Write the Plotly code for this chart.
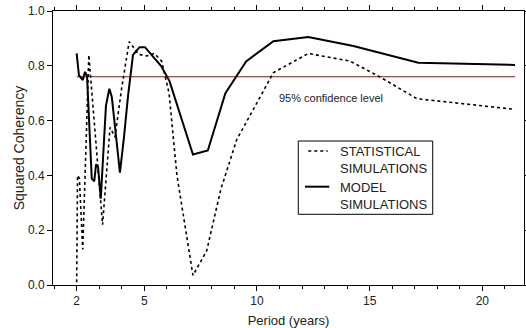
import plotly.graph_objects as go

# Model simulations (solid)
model_period = [2.0, 2.1, 2.27, 2.37, 2.46, 2.67, 2.78, 2.86, 2.95, 3.07, 3.30, 3.45, 3.56,
                3.92, 4.1, 4.28, 4.5, 4.79, 5.03, 5.75, 6.12, 7.16, 7.82, 8.6, 9.52,
                10.73, 12.28, 14.28, 17.16, 21.45]
model_coh = [0.845, 0.766, 0.748, 0.778, 0.762, 0.388, 0.378, 0.44, 0.43, 0.315, 0.655, 0.716, 0.686,
             0.41, 0.54, 0.69, 0.84, 0.868, 0.868, 0.799, 0.744, 0.476, 0.491, 0.70, 0.816,
             0.89, 0.905, 0.872, 0.811, 0.803]

# Statistical simulations (dotted)
stat_period = [2.0, 2.04, 2.12, 2.27, 2.54, 3.15, 3.48, 3.7, 4.0, 4.33, 4.75, 5.1, 5.45,
               5.77, 6.1, 6.45, 7.16, 7.77, 8.4, 9.1, 10.1, 10.73, 12.28, 14.13, 15.4,
               17.1, 21.45]
stat_coh = [0.01, 0.40, 0.39, 0.13, 0.84, 0.22, 0.575, 0.54, 0.72, 0.888, 0.842, 0.836, 0.845,
            0.817, 0.70, 0.40, 0.035, 0.125, 0.35, 0.53, 0.68, 0.775, 0.845, 0.817, 0.762,
            0.68, 0.641]

# 95% confidence level
conf_level = 0.76
conf_period = [2.0, 21.45]

series_names = ["STATISTICAL<br>SIMULATIONS", "MODEL<br>SIMULATIONS"]

x_tickvals = [2, 5, 10, 15, 20]
y_tickvals = [0.0, 0.2, 0.4, 0.6, 0.8, 1.0]
y_ticktext = ["0.0", "0.2", "0.4", "0.6", "0.8", "1.0"]

font_family = "Liberation Sans, Arial, sans-serif"
stat_dash = "3px,3px"

fig = go.Figure()
fig.add_trace(go.Scatter(
    x=conf_period, y=[conf_level] * len(conf_period), mode="lines",
    line=dict(color="#7a1f1f", width=1), showlegend=False, hoverinfo="skip"))
fig.add_trace(go.Scatter(
    x=stat_period, y=stat_coh, mode="lines", name=series_names[0], showlegend=False,
    line=dict(color="black", width=1.6, dash=stat_dash)))
fig.add_trace(go.Scatter(
    x=model_period, y=model_coh, mode="lines", name=series_names[1], showlegend=False,
    line=dict(color="black", width=2)))

fig.add_annotation(x=13.3, y=0.684, text="95% confidence level", showarrow=False,
                   font=dict(size=11, color="#222", family=font_family))

# legend box drawn in paper coordinates (compact symbols, like the original)
fig.add_shape(type="rect", xref="paper", yref="paper", x0=0.5208, x1=0.8062, y0=0.258, y1=0.5255,
              line=dict(color="black", width=1), fillcolor="white", layer="above")
fig.add_shape(type="line", xref="paper", yref="paper", x0=0.542, x1=0.5832, y0=0.489, y1=0.489,
              line=dict(color="black", width=1.6, dash=stat_dash), layer="above")
fig.add_shape(type="line", xref="paper", yref="paper", x0=0.535, x1=0.5866, y0=0.3588, y1=0.3588,
              line=dict(color="black", width=2), layer="above")
for name, ypos in zip(series_names, [0.458, 0.3241]):
    fig.add_annotation(xref="paper", yref="paper", x=0.606, y=ypos, xanchor="left", yanchor="middle",
                       align="left", text=name, showarrow=False,
                       font=dict(size=13, color="#222", family=font_family))

fig.update_layout(
    width=526, height=328,
    margin=dict(l=53, r=2, t=11, b=43),
    paper_bgcolor="white", plot_bgcolor="white",
    font=dict(family=font_family, size=12, color="#222"),
    showlegend=False,
    xaxis=dict(range=[0.95, 21.85], tickvals=x_tickvals, ticks="outside", ticklen=5,
               tickcolor="black", showline=True, linecolor="black", linewidth=1,
               mirror="ticks", showgrid=False, zeroline=False, automargin=False,
               minor=dict(dtick=1, tick0=0, ticks="outside", ticklen=3, tickcolor="black"),
               title=dict(text="Period (years)", standoff=8, font=dict(size=13)),
               tickfont=dict(size=12)),
    yaxis=dict(range=[0, 1.0], tickvals=y_tickvals, ticktext=y_ticktext, ticks="outside",
               ticklen=5, tickcolor="black", showline=True, linecolor="black", linewidth=1,
               mirror="ticks", showgrid=False, zeroline=False, automargin=False,
               ticklabeloverflow="allow",
               title=dict(text="Squared Coherency", standoff=0, font=dict(size=14)),
               tickfont=dict(size=12)),
)

fig.write_html("out.html", config={"displayModeBar": False},
               post_script="document.body.style.margin='0px';")
